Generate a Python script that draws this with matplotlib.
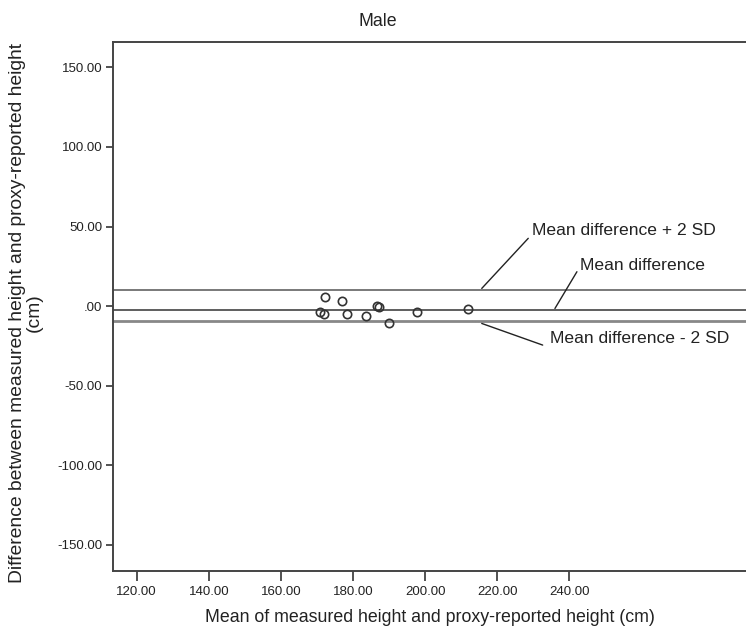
import matplotlib
matplotlib.use("Agg")
import matplotlib.pyplot as plt

plt.rcParams['font.family'] = ['Liberation Sans', 'DejaVu Sans']

# Bland-Altman data: mean of the two heights vs. their difference (cm)
mean_height = [172.2, 177.0, 170.8, 172.0, 178.3, 183.6, 186.7, 187.2, 190.1, 197.7, 211.8]
difference = [5.8, 3.1, -3.8, -5.2, -4.8, -6.3, 0.2, -0.4, -10.7, -4.0, -1.7]

upper_limit = 10.1
mean_diff = -2.5
lower_limit = -9.2

x_ticks = [120, 140, 160, 180, 200, 220, 240]
y_ticks = [-150, -100, -50, 0, 50, 100, 150]


def fmt(v):
    s = f"{v:.2f}"
    return ".00" if v == 0 else s


W, H = 746, 629
fig = plt.figure(figsize=(W / 100, H / 100), dpi=100)
ax = fig.add_axes([113.3 / W, 1 - 570.7 / H, 1 - 113.3 / W, (570.7 - 42.3) / H])

edge = '#444444'
ax.axhline(upper_limit, color='#555555', lw=1.1, zorder=1)
ax.axhline(mean_diff, color='#333333', lw=1.1, zorder=1)
ax.axhline(lower_limit, color='#888888', lw=2.0, zorder=1)

ax.plot(mean_height, difference, linestyle='none', marker='o', markersize=6,
        markerfacecolor='none', markeredgecolor='#333333', markeredgewidth=1.2, zorder=3)

ax.set_xlim(113.5, 289)
ax.set_ylim(-166.3, 165.8)
ax.set_xticks(x_ticks)
ax.set_xticklabels([fmt(v) for v in x_ticks])
ax.set_yticks(y_ticks)
ax.set_yticklabels([fmt(v) for v in y_ticks])

for side in ('left', 'bottom', 'top'):
    ax.spines[side].set_color(edge)
    ax.spines[side].set_linewidth(1.4)
ax.spines['right'].set_visible(False)
ax.tick_params(axis='both', direction='out', length=5, width=1.3, color=edge,
               labelsize=9.5, labelcolor='#222222', pad=3)
ax.tick_params(axis='x', length=7, pad=4)

ax.set_xlabel('Mean of measured height and proxy-reported height (cm)',
              fontsize=12.8, color='#222222', labelpad=8)
fig.text(18 / W, 1 - 313 / H, 'Difference between measured height and proxy-reported height',
         rotation=90, ha='center', va='center', fontsize=13.9, color='#222222')
fig.text(34 / W, 1 - 313 / H, '(cm)',
         rotation=90, ha='center', va='center', fontsize=13.9, color='#222222')
fig.text(378 / W, 1 - 22 / H, 'Male', ha='center', va='center', fontsize=12.8, color='#222222')

ann = dict(fontsize=12.6, color='#222222', va='center', ha='left')
arrow = dict(arrowstyle='-', color='#222222', lw=1.0, shrinkA=0, shrinkB=0)
ax.annotate('', xy=(215.7, upper_limit + 1.0), xytext=(228.6, 42.6), arrowprops=arrow)
ax.text(229.6, 47.8, 'Mean difference + 2 SD', **ann)
ax.annotate('', xy=(236.0, mean_diff + 1.0), xytext=(242.1, 21.6), arrowprops=arrow)
ax.text(243.0, 25.8, 'Mean difference', **ann)
ax.annotate('', xy=(215.7, lower_limit - 1.7), xytext=(232.6, -24.5), arrowprops=arrow)
ax.text(234.6, -20.1, 'Mean difference - 2 SD', **ann)

fig.savefig('out.png', dpi=100)
